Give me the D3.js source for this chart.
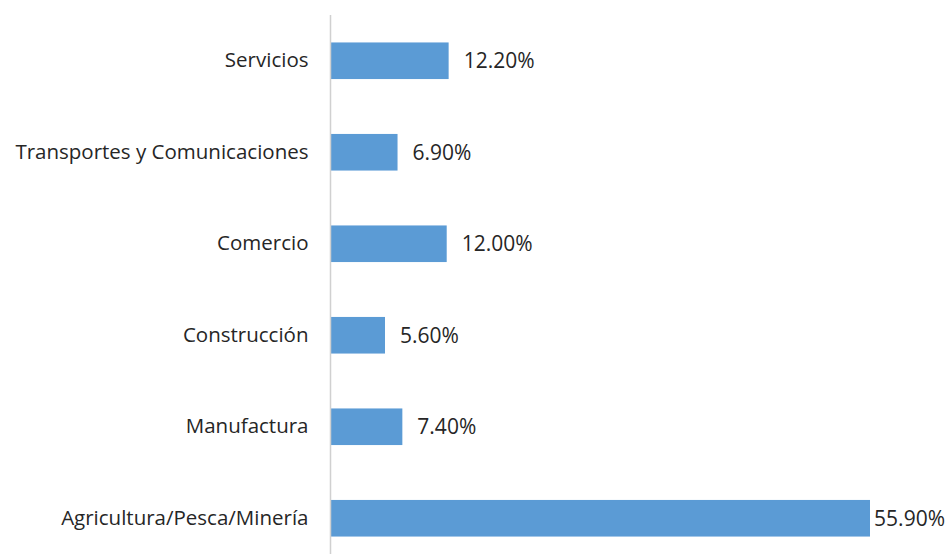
<!DOCTYPE html>
<html>
<head>
<meta charset="utf-8">
<script src="https://cdn.jsdelivr.net/npm/d3@7"></script>
<style>
  body { margin: 0; background: #fff; }
  text { font-family: "Open Sans", "Noto Sans", sans-serif; fill: #262626; }
</style>
</head>
<body>
<script>
var width = 949,
    height = 554

// top to bottom, as drawn
var categories = ["Servicios", "Transportes y Comunicaciones", "Comercio", "Construcción", "Manufactura", "Agricultura/Pesca/Minería"]
var values = [12.2, 6.9, 12.0, 5.6, 7.4, 55.9]
var valueLabels = ["12.20%", "6.90%", "12.00%", "5.60%", "7.40%", "55.90%"]

var data = categories.map((c, i) => ({cat: c, value: values[i], label: valueLabels[i]}))

var x = d3.scaleLinear()
    .domain([0, 55.9])
    .range([331, 870])

var y = d3.scaleBand()
    .domain(categories)
    .range([15, 564])
    .paddingInner(0.6)
    .paddingOuter(0.3)

var svg = d3.select("body").append("svg")
    .attr("width", width)
    .attr("height", height)

svg.append("g")
    .selectAll("rect")
    .data(data)
    .enter().append("rect")
    .attr("x", x(0))
    .attr("y", d => y(d.cat))
    .attr("width", d => x(d.value) - x(0))
    .attr("height", y.bandwidth())
    .attr("fill", "#5b9bd5")

// vertical category axis line
var axis = svg.append("g")
    .attr("transform", `translate(${x(0) - 0.5},0)`)
    .call(d3.axisLeft(y).tickSize(0).tickPadding(22))
axis.select(".domain").remove()
axis.append("line")
    .attr("y1", 15).attr("y2", height)
    .attr("stroke", "#d0d0d0")
    .attr("stroke-width", 1.5)
axis.selectAll(".tick text")
    .attr("font-family", "Open Sans")
    .attr("font-size", 20.5)
    .attr("fill", "#262626")

// value labels, kept inside the page
svg.append("g")
    .selectAll("text")
    .data(data)
    .enter().append("text")
    .attr("y", d => y(d.cat) + y.bandwidth() / 2)
    .attr("dy", "0.35em")
    .attr("font-size", 21)
    .text(d => d.label)
    .attr("x", function (d) {
        let w = this.getComputedTextLength()
        return Math.min(x(d.value) + 15, width - 4 - w)
    })
</script>
</body>
</html>
